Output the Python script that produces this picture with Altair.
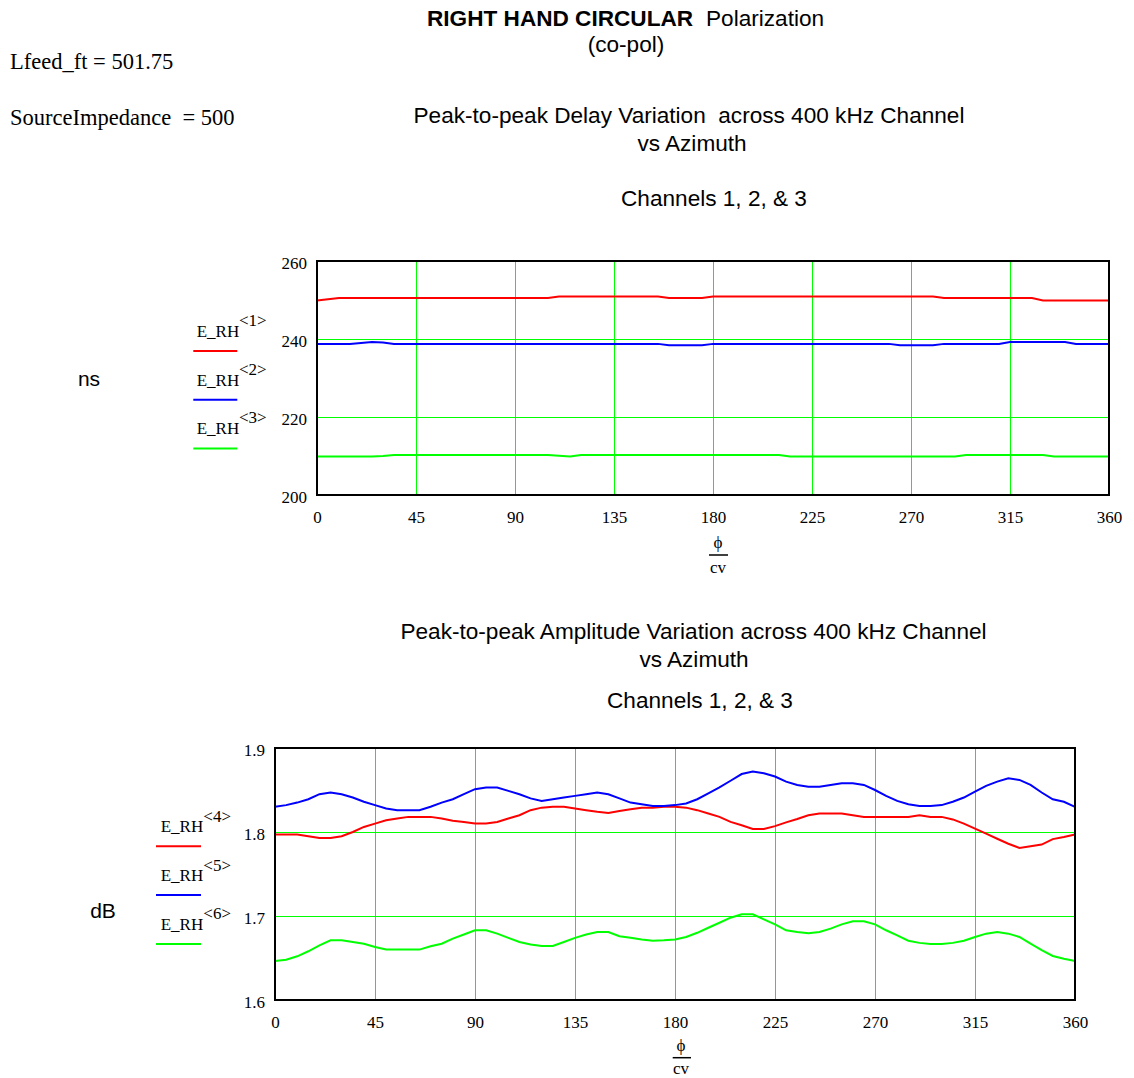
import altair as alt
import pandas as pd

# ---------------- data ----------------
phi = list(range(0, 365, 5))  # azimuth samples, degrees

# Delay (ns), channels 1..3
delay_ch1 = [249.9, 250.2,
             250.5, 250.5, 250.5, 250.5, 250.5, 250.5, 250.5, 250.5, 250.5, 250.5,
             250.5, 250.5, 250.5, 250.5, 250.5, 250.5, 250.5, 250.5, 250.5, 250.5,
             250.9, 250.9, 250.9, 250.9, 250.9, 250.9, 250.9, 250.9, 250.9, 250.9,
             250.5, 250.5, 250.5, 250.5,
             250.9, 250.9, 250.9, 250.9, 250.9, 250.9, 250.9, 250.9, 250.9, 250.9,
             250.9, 250.9, 250.9, 250.9, 250.9, 250.9, 250.9, 250.9, 250.9, 250.9, 250.9,
             250.5, 250.5, 250.5, 250.5, 250.5, 250.5, 250.5, 250.5, 250.5,
             249.9, 249.9, 249.9, 249.9, 249.9, 249.9, 249.9]
delay_ch2 = [238.75, 238.75, 238.75, 238.75, 239.0, 239.25, 239.1,
             238.75, 238.75, 238.75, 238.75, 238.75, 238.75, 238.75, 238.75, 238.75, 238.75,
             238.75, 238.75, 238.75, 238.75, 238.75, 238.75, 238.75, 238.75, 238.75, 238.75,
             238.75, 238.75, 238.75, 238.75, 238.75,
             238.4, 238.4, 238.4, 238.4,
             238.75, 238.75, 238.75, 238.75, 238.75, 238.75, 238.75, 238.75, 238.75,
             238.75, 238.75, 238.75, 238.75, 238.75, 238.75, 238.75, 238.75,
             238.4, 238.4, 238.4, 238.4,
             238.75, 238.75, 238.75, 238.75, 238.75, 238.75,
             239.25, 239.25, 239.25, 239.25, 239.25, 239.25,
             238.75, 238.75, 238.75, 238.75]
delay_ch3 = [209.9, 209.9, 209.9, 209.9, 209.9, 209.9, 210.0,
             210.25, 210.25, 210.25, 210.25, 210.25, 210.25, 210.25, 210.25,
             210.25, 210.25, 210.25, 210.25, 210.25, 210.25, 210.25,
             210.05, 209.85,
             210.25, 210.25, 210.25, 210.25, 210.25, 210.25, 210.25, 210.25, 210.25, 210.25,
             210.25, 210.25, 210.25, 210.25, 210.25, 210.25, 210.25, 210.25, 210.25,
             209.9, 209.9, 209.9, 209.9, 209.9, 209.9, 209.9, 209.9,
             209.9, 209.9, 209.9, 209.9, 209.9, 209.9, 209.9, 209.9,
             210.25, 210.25, 210.25, 210.25, 210.25, 210.25, 210.25, 210.25,
             209.9, 209.9, 209.9, 209.9, 209.9, 209.9]

# Amplitude (dB), channels 4..6
amp_ch4 = [1.797, 1.797, 1.797, 1.795, 1.793, 1.793, 1.795, 1.800, 1.806, 1.810, 1.814, 1.816,
           1.818, 1.818, 1.818, 1.816, 1.8135, 1.812, 1.810, 1.810, 1.812, 1.816, 1.820, 1.826,
           1.829, 1.830, 1.830, 1.828, 1.826, 1.824, 1.8225, 1.825, 1.827, 1.829, 1.829, 1.830,
           1.830, 1.829, 1.826, 1.822, 1.818, 1.812, 1.808, 1.8035, 1.8035, 1.807, 1.8115, 1.8155,
           1.820, 1.822, 1.822, 1.822, 1.820, 1.818, 1.818, 1.818, 1.818, 1.818, 1.820, 1.818,
           1.818, 1.815, 1.810, 1.804, 1.798, 1.792, 1.786, 1.781, 1.783, 1.785, 1.7915, 1.794,
           1.797]
amp_ch5 = [1.830, 1.832, 1.835, 1.839, 1.845, 1.847, 1.845, 1.841, 1.836, 1.832, 1.828, 1.826,
           1.826, 1.826, 1.830, 1.835, 1.839, 1.845, 1.851, 1.853, 1.853, 1.849, 1.845, 1.840,
           1.837, 1.839, 1.841, 1.843, 1.845, 1.847, 1.845, 1.840, 1.835, 1.833, 1.831, 1.831,
           1.832, 1.834, 1.839, 1.846, 1.853, 1.861, 1.869, 1.872, 1.870, 1.866, 1.860, 1.856,
           1.854, 1.854, 1.856, 1.858, 1.858, 1.856, 1.850, 1.843, 1.837, 1.833, 1.831, 1.831,
           1.832, 1.836, 1.841, 1.848, 1.855, 1.860, 1.864, 1.862, 1.856, 1.847, 1.839, 1.836,
           1.830]
amp_ch6 = [1.6465, 1.648, 1.652, 1.658, 1.665, 1.671, 1.671, 1.669, 1.667, 1.663, 1.660, 1.660,
           1.660, 1.660, 1.664, 1.667, 1.673, 1.678, 1.683, 1.683, 1.679, 1.674, 1.669, 1.666,
           1.6643, 1.6643, 1.669, 1.674, 1.678, 1.681, 1.681, 1.676, 1.674, 1.672, 1.6706, 1.671,
           1.672, 1.675, 1.680, 1.686, 1.692, 1.698, 1.702, 1.702, 1.696, 1.690, 1.683, 1.681,
           1.6794, 1.681, 1.685, 1.690, 1.6937, 1.6937, 1.690, 1.683, 1.677, 1.6706, 1.668, 1.6667,
           1.6667, 1.668, 1.6706, 1.675, 1.679, 1.681, 1.679, 1.675, 1.667, 1.6595, 1.6524, 1.649,
           1.6465]

x_ticks = [0, 45, 90, 135, 180, 225, 270, 315, 360]
delay_ticks = [200, 220, 240, 260]
amp_ticks = [1.6, 1.7, 1.8, 1.9]
top_names = ["<1>", "<2>", "<3>"]
bottom_names = ["<4>", "<5>", "<6>"]
line_colors = ["#ff0000", "#0000ff", "#00ff00"]

main_title_bold = "RIGHT HAND CIRCULAR"
main_title_rest = "Polarization"
main_sub = "(co-pol)"
param_lines = ["Lfeed_ft = 501.75", "SourceImpedance\u00a0\u00a0= 500"]
delay_title = ["Peak-to-peak Delay Variation\u00a0 across 400 kHz Channel", "vs Azimuth",
               "Channels 1, 2, & 3"]
amp_title = ["Peak-to-peak Amplitude Variation across 400 kHz Channel", "vs Azimuth",
             "Channels 1, 2, & 3"]

SERIF = "Liberation Serif"
SANS = "Liberation Sans"
GRID = "#00ff00"
OX = 277  # page x of each panel's group origin


def one():
    return pd.DataFrame({"a": [0]})


class Panel:
    def __init__(self, oy):
        self.oy = oy

    def X(self, px):
        return px - OX

    def Y(self, py):
        return py - self.oy

    def txt(self, s, px, py, font, size, align="left", weight="normal"):
        return alt.Chart(pd.DataFrame({"t": [s]})).mark_text(
            font=font, fontSize=size, align=align, baseline="alphabetic",
            fontWeight=weight, color="black"
        ).encode(x=alt.value(self.X(px)), y=alt.value(self.Y(py)), text="t:N")

    def hrule(self, px1, px2, py, color, width):
        return alt.Chart(one()).mark_rule(color=color, strokeWidth=width).encode(
            x=alt.value(self.X(px1)), x2=alt.value(self.X(px2)), y=alt.value(self.Y(py)))

    def anchor(self, py1, py2):
        return alt.Chart(one()).mark_rule(opacity=0, color="white").encode(
            x=alt.value(self.X(0)), y=alt.value(self.Y(py1)), y2=alt.value(self.Y(py2)))


def build(p, series, names, ydomain, yticks, yfmt, plot, legend, frac, extra):
    left, top, right, bottom = plot
    x0, x1 = p.X(left), p.X(right)
    H = bottom - top
    rows = []
    for name, vals in zip(names, series):
        for a, v in zip(phi, vals):
            rows.append({"phi": a, "v": v, "s": name})
    df = pd.DataFrame(rows)
    xs = alt.Scale(domain=[0, 360], range=[x0, x1], nice=False, zero=False)
    ys = alt.Scale(domain=ydomain, nice=False, zero=False)

    tick_df = pd.DataFrame({"v": yticks})
    hgrid = alt.Chart(tick_df).mark_rule(color=GRID, strokeWidth=1, yOffset=0.5).encode(
        y=alt.Y("v:Q", scale=ys, axis=None), x=alt.value(x0), x2=alt.value(x1))
    ylabels = alt.Chart(tick_df).mark_text(
        font=SERIF, fontSize=17, align="right", baseline="middle", dy=3, color="black"
    ).encode(y=alt.Y("v:Q", scale=ys, axis=None), x=alt.value(x0 - 10),
             text=alt.Text("v:Q", format=yfmt))
    lines = alt.Chart(df).mark_line(strokeWidth=2).encode(
        x=alt.X("phi:Q", scale=xs,
                axis=alt.Axis(values=x_ticks, title=None, labelPadding=14,
                              labelFlush=False, grid=True)),
        y=alt.Y("v:Q", scale=ys, axis=None),
        color=alt.Color("s:N", scale=alt.Scale(domain=names, range=line_colors),
                        legend=None),
    )
    frame = alt.Chart(one()).mark_rect(fillOpacity=0, stroke="black", strokeWidth=2).encode(
        x=alt.value(x0), x2=alt.value(x1), y=alt.value(0), y2=alt.value(H))
    layers = [hgrid, lines, frame, ylabels]
    lx, ly, sx, sy, rx1, rx2, ry, step = legend
    for i, name in enumerate(names):
        layers.append(p.txt("E_RH", lx, ly + i * step, SERIF, 17))
        layers.append(p.txt(name, sx, sy + i * step, SERIF, 17))
        layers.append(p.hrule(rx1, rx2, ry + i * step, line_colors[i], 2))
    fx, fy, fl1, fl2, fly, cy = frac
    layers.append(p.txt("ϕ", fx, fy, SERIF, 17, align="center"))
    layers.append(p.hrule(fl1, fl2, fly, "black", 1.5))
    layers.append(p.txt("cv", fx, cy, SERIF, 17, align="center"))
    layers.extend(extra)
    return alt.layer(*layers).properties(width=x1, height=H)


pt = Panel(261)
top_extra = [
    pt.anchor(0, 600),
    pt.txt(main_title_bold, 427, 26, SANS, 22.6, weight="bold"),
    pt.txt(main_title_rest, 706, 26, SANS, 22.6),
    pt.txt(main_sub, 626, 52, SANS, 22.6, align="center"),
    pt.txt(param_lines[0], 10, 69, SERIF, 22.5),
    pt.txt(param_lines[1], 10, 125, SERIF, 22.5),
    pt.txt(delay_title[0], 689, 123, SANS, 22.6, align="center"),
    pt.txt(delay_title[1], 692, 151, SANS, 22.6, align="center"),
    pt.txt(delay_title[2], 714, 206, SANS, 22.6, align="center"),
    pt.txt("ns", 89, 386, SANS, 21, align="center"),
]
top = build(pt, [delay_ch1, delay_ch2, delay_ch3], top_names, [200, 260], delay_ticks, "d",
            (317, 261, 1109, 495),
            (196.7, 337, 239, 326, 193.3, 237.3, 351, 48.7),
            (718, 548, 709, 728, 555, 573),
            top_extra)

pb = Panel(748)
bottom_extra = [
    pb.anchor(600, 1076),
    pb.txt(amp_title[0], 693.5, 639, SANS, 22.6, align="center"),
    pb.txt(amp_title[1], 694, 667, SANS, 22.6, align="center"),
    pb.txt(amp_title[2], 700, 708, SANS, 22.6, align="center"),
    pb.txt("dB", 103, 918, SANS, 21, align="center"),
]
bottom = build(pb, [amp_ch4, amp_ch5, amp_ch6], bottom_names, [1.6, 1.9], amp_ticks, ".1f",
               (275, 748, 1075, 1000),
               (160.7, 832.3, 203.3, 821.7, 156, 201, 846.3, 48.8),
               (681, 1051, 672.7, 691, 1057.7, 1074),
               bottom_extra)

chart = alt.vconcat(top, bottom, spacing=0).properties(padding=0).configure_view(
    strokeWidth=0
).configure_axis(
    labelFont=SERIF, labelFontSize=17, labelColor="black",
    ticks=False, tickSize=0, domain=False,
    gridColor=GRID, gridOpacity=1, gridWidth=1,
)

chart.save("out.html", embed_options={"renderer": "svg", "actions": False})
